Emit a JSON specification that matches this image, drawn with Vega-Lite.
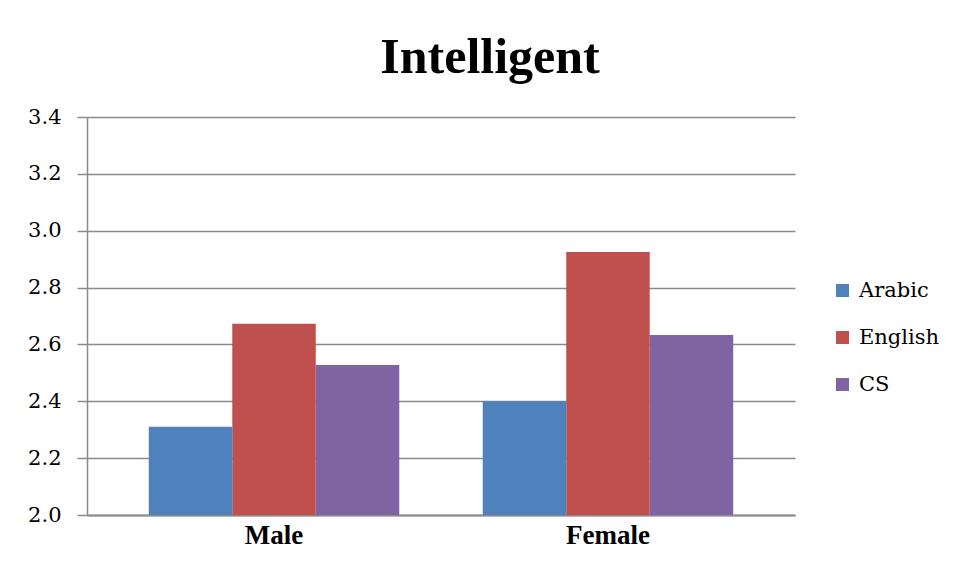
{
  "$schema": "https://vega.github.io/schema/vega-lite/v6.json",
  "width": 708,
  "height": 398,
  "autosize": {"type": "none"},
  "padding": {"left": 87, "top": 117, "right": 166, "bottom": 65},
  "background": "white",
  "title": {
    "text": "Intelligent",
    "font": "Liberation Serif",
    "fontSize": 50,
    "fontWeight": "bold",
    "color": "#000000",
    "anchor": "middle",
    "dx": 49,
    "offset": 23
  },
  "data": {
    "values": [
      {"gender": "Male", "language": "Arabic", "value": 2.31},
      {"gender": "Male", "language": "English", "value": 2.673},
      {"gender": "Male", "language": "CS", "value": 2.528},
      {"gender": "Female", "language": "Arabic", "value": 2.40},
      {"gender": "Female", "language": "English", "value": 2.925},
      {"gender": "Female", "language": "CS", "value": 2.633}
    ]
  },
  "mark": {"type": "bar", "clip": true},
  "encoding": {
    "x": {
      "field": "gender",
      "type": "nominal",
      "sort": ["Male", "Female"],
      "scale": {"paddingInner": 0.25, "paddingOuter": 0.185},
      "axis": {
        "title": null,
        "labelAngle": 0,
        "labelFont": "Liberation Serif",
        "labelFontSize": 27,
        "labelFontWeight": "bold",
        "labelColor": "#000000",
        "labelPadding": 7,
        "ticks": false,
        "domainColor": "#8a8a8a",
        "domainWidth": 2
      }
    },
    "xOffset": {
      "field": "language",
      "type": "nominal",
      "sort": ["Arabic", "English", "CS"],
      "scale": {"paddingInner": 0, "paddingOuter": 0}
    },
    "y": {
      "field": "value",
      "type": "quantitative",
      "scale": {"domain": [2.0, 3.4], "nice": false, "zero": false},
      "axis": {
        "title": null,
        "values": [2.0, 2.2, 2.4, 2.6, 2.8, 3.0, 3.2, 3.4],
        "format": ".1f",
        "labelFont": "DejaVu Serif",
        "labelFontSize": 21,
        "labelColor": "#000000",
        "labelPadding": 16,
        "tickSize": 10,
        "tickColor": "#8a8a8a",
        "tickWidth": 1.5,
        "domainColor": "#8a8a8a",
        "domainWidth": 1.5,
        "grid": true,
        "gridColor": "#8a8a8a",
        "gridWidth": 1.5
      }
    },
    "color": {
      "field": "language",
      "type": "nominal",
      "sort": ["Arabic", "English", "CS"],
      "scale": {"domain": ["Arabic", "English", "CS"], "range": ["#4F81BD", "#C0504D", "#8064A2"]},
      "legend": {
        "title": null,
        "orient": "none",
        "legendX": 745,
        "legendY": 163,
        "symbolType": "square",
        "symbolSize": 170,
        "symbolStrokeWidth": 0,
        "labelFont": "DejaVu Serif",
        "labelFontSize": 21,
        "labelColor": "#000000",
        "labelOffset": 6,
        "rowPadding": 25
      }
    }
  },
  "config": {
    "view": {"stroke": null}
  }
}
